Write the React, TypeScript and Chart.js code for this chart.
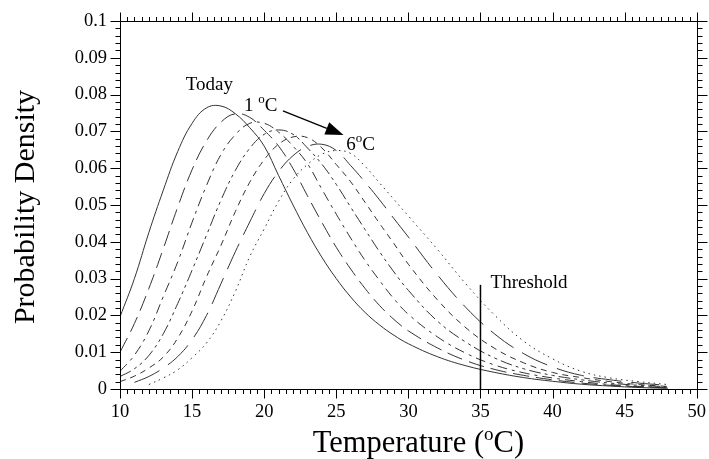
import React, { useEffect, useRef } from 'react';
import { Chart, registerables } from 'chart.js';

Chart.register(...registerables);

// ---------- data ----------
const TEMPS = [10, 11, 12, 13, 14, 15, 16, 17, 18, 19, 20, 21, 22, 23, 24, 25, 26, 27, 28, 29, 30, 32, 34, 36, 38, 40, 42, 44, 46, 48];

const TODAY = [0.0196, 0.030, 0.0425, 0.0540, 0.0645, 0.0722, 0.0764, 0.0769, 0.0748, 0.071, 0.066, 0.058, 0.050, 0.0425, 0.0358, 0.0300, 0.0250, 0.0208, 0.0174, 0.0146, 0.0123, 0.0088, 0.0063, 0.0045, 0.0031, 0.0021, 0.0013, 0.0008, 0.0004, 0.0002];
const PLUS1 = [0.0100, 0.0178, 0.0273, 0.0381, 0.0494, 0.0596, 0.0674, 0.0725, 0.0748, 0.0738, 0.0703, 0.0660, 0.0599, 0.0525, 0.0453, 0.0385, 0.0326, 0.0273, 0.0227, 0.0189, 0.0158, 0.0112, 0.0077, 0.0053, 0.0037, 0.0025, 0.0016, 0.0010, 0.0006, 0.0003];
const PLUS2 = [0.0048, 0.0092, 0.0158, 0.0251, 0.0345, 0.0453, 0.0553, 0.0637, 0.0691, 0.0722, 0.0722, 0.0698, 0.0660, 0.0612, 0.0543, 0.0475, 0.0410, 0.0349, 0.0295, 0.0245, 0.0203, 0.0142, 0.0097, 0.0065, 0.0044, 0.0030, 0.0020, 0.0012, 0.0007, 0.0004];
const PLUS3 = [0.0034, 0.0055, 0.0091, 0.0150, 0.0232, 0.0323, 0.0418, 0.0513, 0.0594, 0.0654, 0.0692, 0.0704, 0.0692, 0.0655, 0.0611, 0.0556, 0.0494, 0.0433, 0.0373, 0.0318, 0.0268, 0.0185, 0.0127, 0.0084, 0.0055, 0.0037, 0.0025, 0.0016, 0.0010, 0.0006];
const PLUS4 = [0.0020, 0.0035, 0.0057, 0.0087, 0.0138, 0.0212, 0.0305, 0.0390, 0.0482, 0.0562, 0.0623, 0.0665, 0.0685, 0.0683, 0.0655, 0.0610, 0.0563, 0.0507, 0.0450, 0.0395, 0.0339, 0.0243, 0.0166, 0.0110, 0.0071, 0.0045, 0.0031, 0.0020, 0.0012, 0.0007];
const PLUS5 = [null, 0.0018, 0.0034, 0.0057, 0.0088, 0.0134, 0.0200, 0.0286, 0.0373, 0.0454, 0.0531, 0.0591, 0.0634, 0.0659, 0.0665, 0.0648, 0.0607, 0.0562, 0.0514, 0.0463, 0.0413, 0.0311, 0.0221, 0.0149, 0.0096, 0.0060, 0.0037, 0.0025, 0.0016, 0.0010];
const PLUS6 = [null, null, 0.0012, 0.003, 0.0052, 0.0085, 0.0125, 0.0185, 0.0265, 0.036, 0.0435, 0.051, 0.057, 0.061, 0.0638, 0.0648, 0.064, 0.0605, 0.056, 0.0515, 0.047, 0.038, 0.0285, 0.020, 0.013, 0.0082, 0.0048, 0.003, 0.002, 0.0012];

const SERIES = [TODAY, PLUS1, PLUS2, PLUS3, PLUS4, PLUS5, PLUS6];
const SERIES_NAMES = ['Today', '+1', '+2', '+3', '+4', '+5', '+6'];

const X_MIN = 10;
const X_MAX = 50;
const X_STEP = 5;
const X_MINOR = 0.5;
const Y_MIN = 0;
const Y_MAX = 0.1;
const Y_STEP = 0.01;
const Y_MINOR = 0.002;

const THRESHOLD_T = 35;
const THRESHOLD_TOP = 0.0283;

const X_TITLE = ['Temperature (', 'o', 'C)'];
const Y_TITLE = 'Probability Density';
const LABEL_TODAY = { text: 'Today', x: 16.2, y: 0.0826 };
const LABEL_ONE = { parts: ['1 ', 'o', 'C'], x: 18.6, y: 0.0772 };
const LABEL_SIX = { parts: ['6', 'o', 'C'], x: 25.7, y: 0.0668 };
const LABEL_THRESHOLD = { text: 'Threshold', x: 35.7, y: 0.0288 };
const ARROW_FROM = { x: 21.3, y: 0.0756 };
const ARROW_TO = { x: 25.5, y: 0.069 };

// ---------- styles ----------
const FONT = '"Liberation Serif", "Times New Roman", serif';
const DASHES = [[], [16, 7], [10, 5, 3, 5], [12, 4, 3, 4, 3, 4], [6, 5], [28, 10], [1.5, 4]];
const LINE_COLOR = '#333';

function drawParts(ctx: CanvasRenderingContext2D, parts: string[], x: number, y: number, size: number, supSize: number, rise: number, align: 'left' | 'center') {
  ctx.textBaseline = 'alphabetic';
  ctx.textAlign = 'left';
  const fonts = parts.map((_, i) => (i === 1 ? `${supSize}px ${FONT}` : `${size}px ${FONT}`));
  const widths = parts.map((p, i) => {
    ctx.font = fonts[i];
    return ctx.measureText(p).width;
  });
  const total = widths.reduce((a, b) => a + b, 0);
  let cx = align === 'center' ? x - total / 2 : x;
  parts.forEach((p, i) => {
    ctx.font = fonts[i];
    ctx.fillText(p, cx, i === 1 ? y - rise : y);
    cx += widths[i];
  });
}

const decorPlugin = {
  id: 'decor',
  afterDatasetsDraw(chart: any) {
    const { ctx, scales } = chart;
    const xs = scales.x;
    const ys = scales.y;
    ctx.save();
    ctx.fillStyle = '#000';
    ctx.strokeStyle = '#000';

    // threshold line
    ctx.lineWidth = 1.5;
    const tx = xs.getPixelForValue(THRESHOLD_T);
    ctx.beginPath();
    ctx.moveTo(tx, ys.getPixelForValue(0));
    ctx.lineTo(tx, ys.getPixelForValue(THRESHOLD_TOP));
    ctx.stroke();

    // labels
    ctx.font = `19px ${FONT}`;
    ctx.textBaseline = 'middle';
    ctx.textAlign = 'center';
    ctx.fillText(LABEL_TODAY.text, xs.getPixelForValue(LABEL_TODAY.x), ys.getPixelForValue(LABEL_TODAY.y));
    ctx.textAlign = 'left';
    ctx.fillText(LABEL_THRESHOLD.text, xs.getPixelForValue(LABEL_THRESHOLD.x), ys.getPixelForValue(LABEL_THRESHOLD.y));
    drawParts(ctx, LABEL_ONE.parts, xs.getPixelForValue(LABEL_ONE.x), ys.getPixelForValue(LABEL_ONE.y) + 6.5, 19, 13, 8, 'left');
    drawParts(ctx, LABEL_SIX.parts, xs.getPixelForValue(LABEL_SIX.x), ys.getPixelForValue(LABEL_SIX.y) + 6.5, 19, 13, 8, 'left');

    // arrow
    const ax0 = xs.getPixelForValue(ARROW_FROM.x);
    const ay0 = ys.getPixelForValue(ARROW_FROM.y);
    const ax1 = xs.getPixelForValue(ARROW_TO.x);
    const ay1 = ys.getPixelForValue(ARROW_TO.y);
    const ang = Math.atan2(ay1 - ay0, ax1 - ax0);
    const headLen = 18;
    const headHalf = 6.5;
    const bx = ax1 - headLen * Math.cos(ang);
    const by = ay1 - headLen * Math.sin(ang);
    ctx.lineWidth = 1.3;
    ctx.beginPath();
    ctx.moveTo(ax0, ay0);
    ctx.lineTo(bx, by);
    ctx.stroke();
    ctx.beginPath();
    ctx.moveTo(ax1, ay1);
    ctx.lineTo(bx + headHalf * Math.sin(ang), by - headHalf * Math.cos(ang));
    ctx.lineTo(bx - headHalf * Math.sin(ang), by + headHalf * Math.cos(ang));
    ctx.closePath();
    ctx.fill();
    ctx.restore();
  },
  afterDraw(chart: any) {
    const { ctx, chartArea: a, scales } = chart;
    const xs = scales.x;
    const ys = scales.y;
    ctx.save();
    ctx.strokeStyle = '#000';
    ctx.lineWidth = 1;
    const L = Math.round(a.left) + 0.5;
    const R = Math.round(a.right) + 0.5;
    const T = Math.round(a.top) + 0.5;
    const B = Math.round(a.bottom) + 0.5;
    ctx.beginPath();
    ctx.rect(L, T, R - L, B - T);
    ctx.stroke();

    ctx.beginPath();
    const nx = Math.round((X_MAX - X_MIN) / X_MINOR);
    const perMajX = Math.round(X_STEP / X_MINOR);
    for (let i = 0; i <= nx; i++) {
      const px = Math.round(xs.getPixelForValue(X_MIN + i * X_MINOR)) + 0.5;
      const len = i % perMajX === 0 ? 9 : 4.5;
      ctx.moveTo(px, B);
      ctx.lineTo(px, B + len);
      ctx.moveTo(px, T);
      ctx.lineTo(px, T - len);
    }
    const ny = Math.round((Y_MAX - Y_MIN) / Y_MINOR);
    const perMajY = Math.round(Y_STEP / Y_MINOR);
    for (let i = 0; i <= ny; i++) {
      const py = Math.round(ys.getPixelForValue(Y_MIN + i * Y_MINOR)) + 0.5;
      const len = i % perMajY === 0 ? 10 : 5;
      ctx.moveTo(L, py);
      ctx.lineTo(L - len, py);
      ctx.moveTo(R, py);
      ctx.lineTo(R + len, py);
    }
    ctx.stroke();

    // titles
    ctx.fillStyle = '#000';
    drawParts(ctx, X_TITLE, (a.left + a.right) / 2 + 10, 452, 30.5, 19, 12, 'center');

    ctx.save();
    ctx.translate(33.5, (a.top + a.bottom) / 2 + 2);
    ctx.rotate(-Math.PI / 2);
    ctx.font = `30px ${FONT}`;
    ctx.textAlign = 'center';
    ctx.textBaseline = 'alphabetic';
    ctx.fillText(Y_TITLE, 0, 0);
    ctx.restore();
    ctx.restore();
  },
};

export default function App() {
  const canvasRef = useRef<HTMLCanvasElement | null>(null);

  useEffect(() => {
    if (!canvasRef.current) return;
    const datasets = SERIES.map((vals, i) => ({
      label: SERIES_NAMES[i],
      data: TEMPS.map((t, j) => ({ x: t, y: vals[j] })).filter((p) => p.y !== null),
      borderColor: LINE_COLOR,
      borderWidth: 1,
      borderDash: DASHES[i],
      pointRadius: 0,
      fill: false,
      tension: 0.4,
      cubicInterpolationMode: 'default' as const,
    }));
    const chart = new Chart(canvasRef.current, {
      type: 'line',
      data: { datasets },
      options: {
        animation: false,
        responsive: false,
        maintainAspectRatio: false,
        devicePixelRatio: 1,
        layout: { padding: { top: 21, right: 9, bottom: 0, left: 0 } },
        plugins: { legend: { display: false }, tooltip: { enabled: false } },
        scales: {
          x: {
            type: 'linear',
            min: X_MIN,
            max: X_MAX,
            ticks: { stepSize: X_STEP, color: '#000', font: { family: FONT, size: 18.5 }, padding: 3, maxRotation: 0, autoSkip: false },
            grid: { display: false, drawTicks: true, tickLength: 9 },
            border: { display: false },
            afterFit: (s: any) => { s.height = 70; },
          },
          y: {
            type: 'linear',
            min: Y_MIN,
            max: Y_MAX,
            ticks: {
              stepSize: Y_STEP,
              color: '#000',
              font: { family: FONT, size: 18.5 },
              padding: 3,
              callback: (v: any) => (Number(v) === 0 ? '0' : String(parseFloat(Number(v).toFixed(3)))),
            },
            grid: { display: false, drawTicks: true, tickLength: 10 },
            border: { display: false },
            afterFit: (s: any) => { s.width = 120; },
          },
        },
      },
      plugins: [decorPlugin],
    });
    return () => chart.destroy();
  }, []);

  return (
    <div style={{ position: 'fixed', left: 0, top: 0, width: 709, height: 459, background: '#fff' }}>
      <canvas ref={canvasRef} width={709} height={459} style={{ display: 'block' }} />
    </div>
  );
}
